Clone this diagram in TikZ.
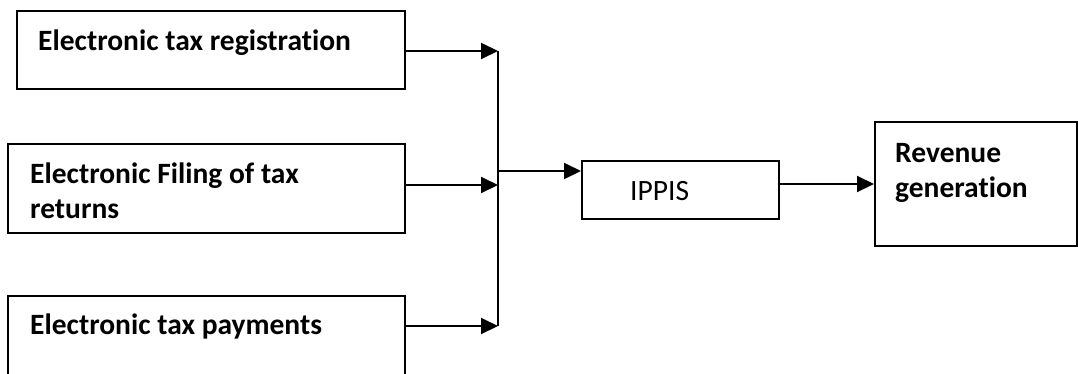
\documentclass[tikz,border=0pt]{standalone}
\usepackage{fontspec}
\setmainfont[Ligatures=NoCommon]{Carlito}
\usetikzlibrary{arrows.meta,calc}
\begin{document}
\begin{tikzpicture}[x=1pt,y=-1pt,
  box/.style={draw,line width=2pt,rectangle,inner sep=0pt},
  lbl/.style={anchor=base west,inner sep=0pt,align=left,font=\fontsize{29.5}{35}\selectfont\bfseries},
  plain/.style={anchor=base west,inner sep=0pt,font=\fontsize{29.5}{35}\selectfont},
  arr/.style={line width=2pt,-{Triangle[length=17pt,width=16pt]}},
  wire/.style={line width=2pt}]
\useasboundingbox (0,0) rectangle (1078,373);
\clip (0,0) rectangle (1078,373);

% input boxes
\node[box,minimum width=388,minimum height=78] (b1) at (211,50) {};
\node[box,minimum width=397,minimum height=89] (b2) at (206.5,188.5) {};
\node[box,minimum width=397,minimum height=110] (b3) at (206.5,351) {};
\node[lbl] (t1l) at (38,50) {Electronic tax registration};
\node[lbl] (t2l) at (30,218) {Electronic Filing of tax\\returns};
\node[lbl] (t3l) at (30,334) {Electronic tax payments};

% middle and output boxes
\node[box,minimum width=197,minimum height=58] (ip) at (680.5,190) {};
\node[plain] (ipl) at (630,200) {IPPIS};
\node[box,minimum width=202,minimum height=124] (rv) at (976,184) {};
\node[lbl] (rvl) at (895,197) {Revenue\\generation};

% collecting trunk
\coordinate (j1) at (498,51);
\coordinate (j2) at (498,185);
\coordinate (j3) at (498,326);
\coordinate (jm) at (498,171);
\draw[wire] (j1) -- (j3);

\draw[arr] (b1.east |- j1) -- (j1);
\draw[arr] (b2.east |- j2) -- (j2);
\draw[arr] (b3.east |- j3) -- (j3);
\draw[arr] (jm) -- (ip.west |- jm);
\draw[arr] (ip.east |- 0,184) -- (rv.west |- 0,184);
\end{tikzpicture}
\end{document}
